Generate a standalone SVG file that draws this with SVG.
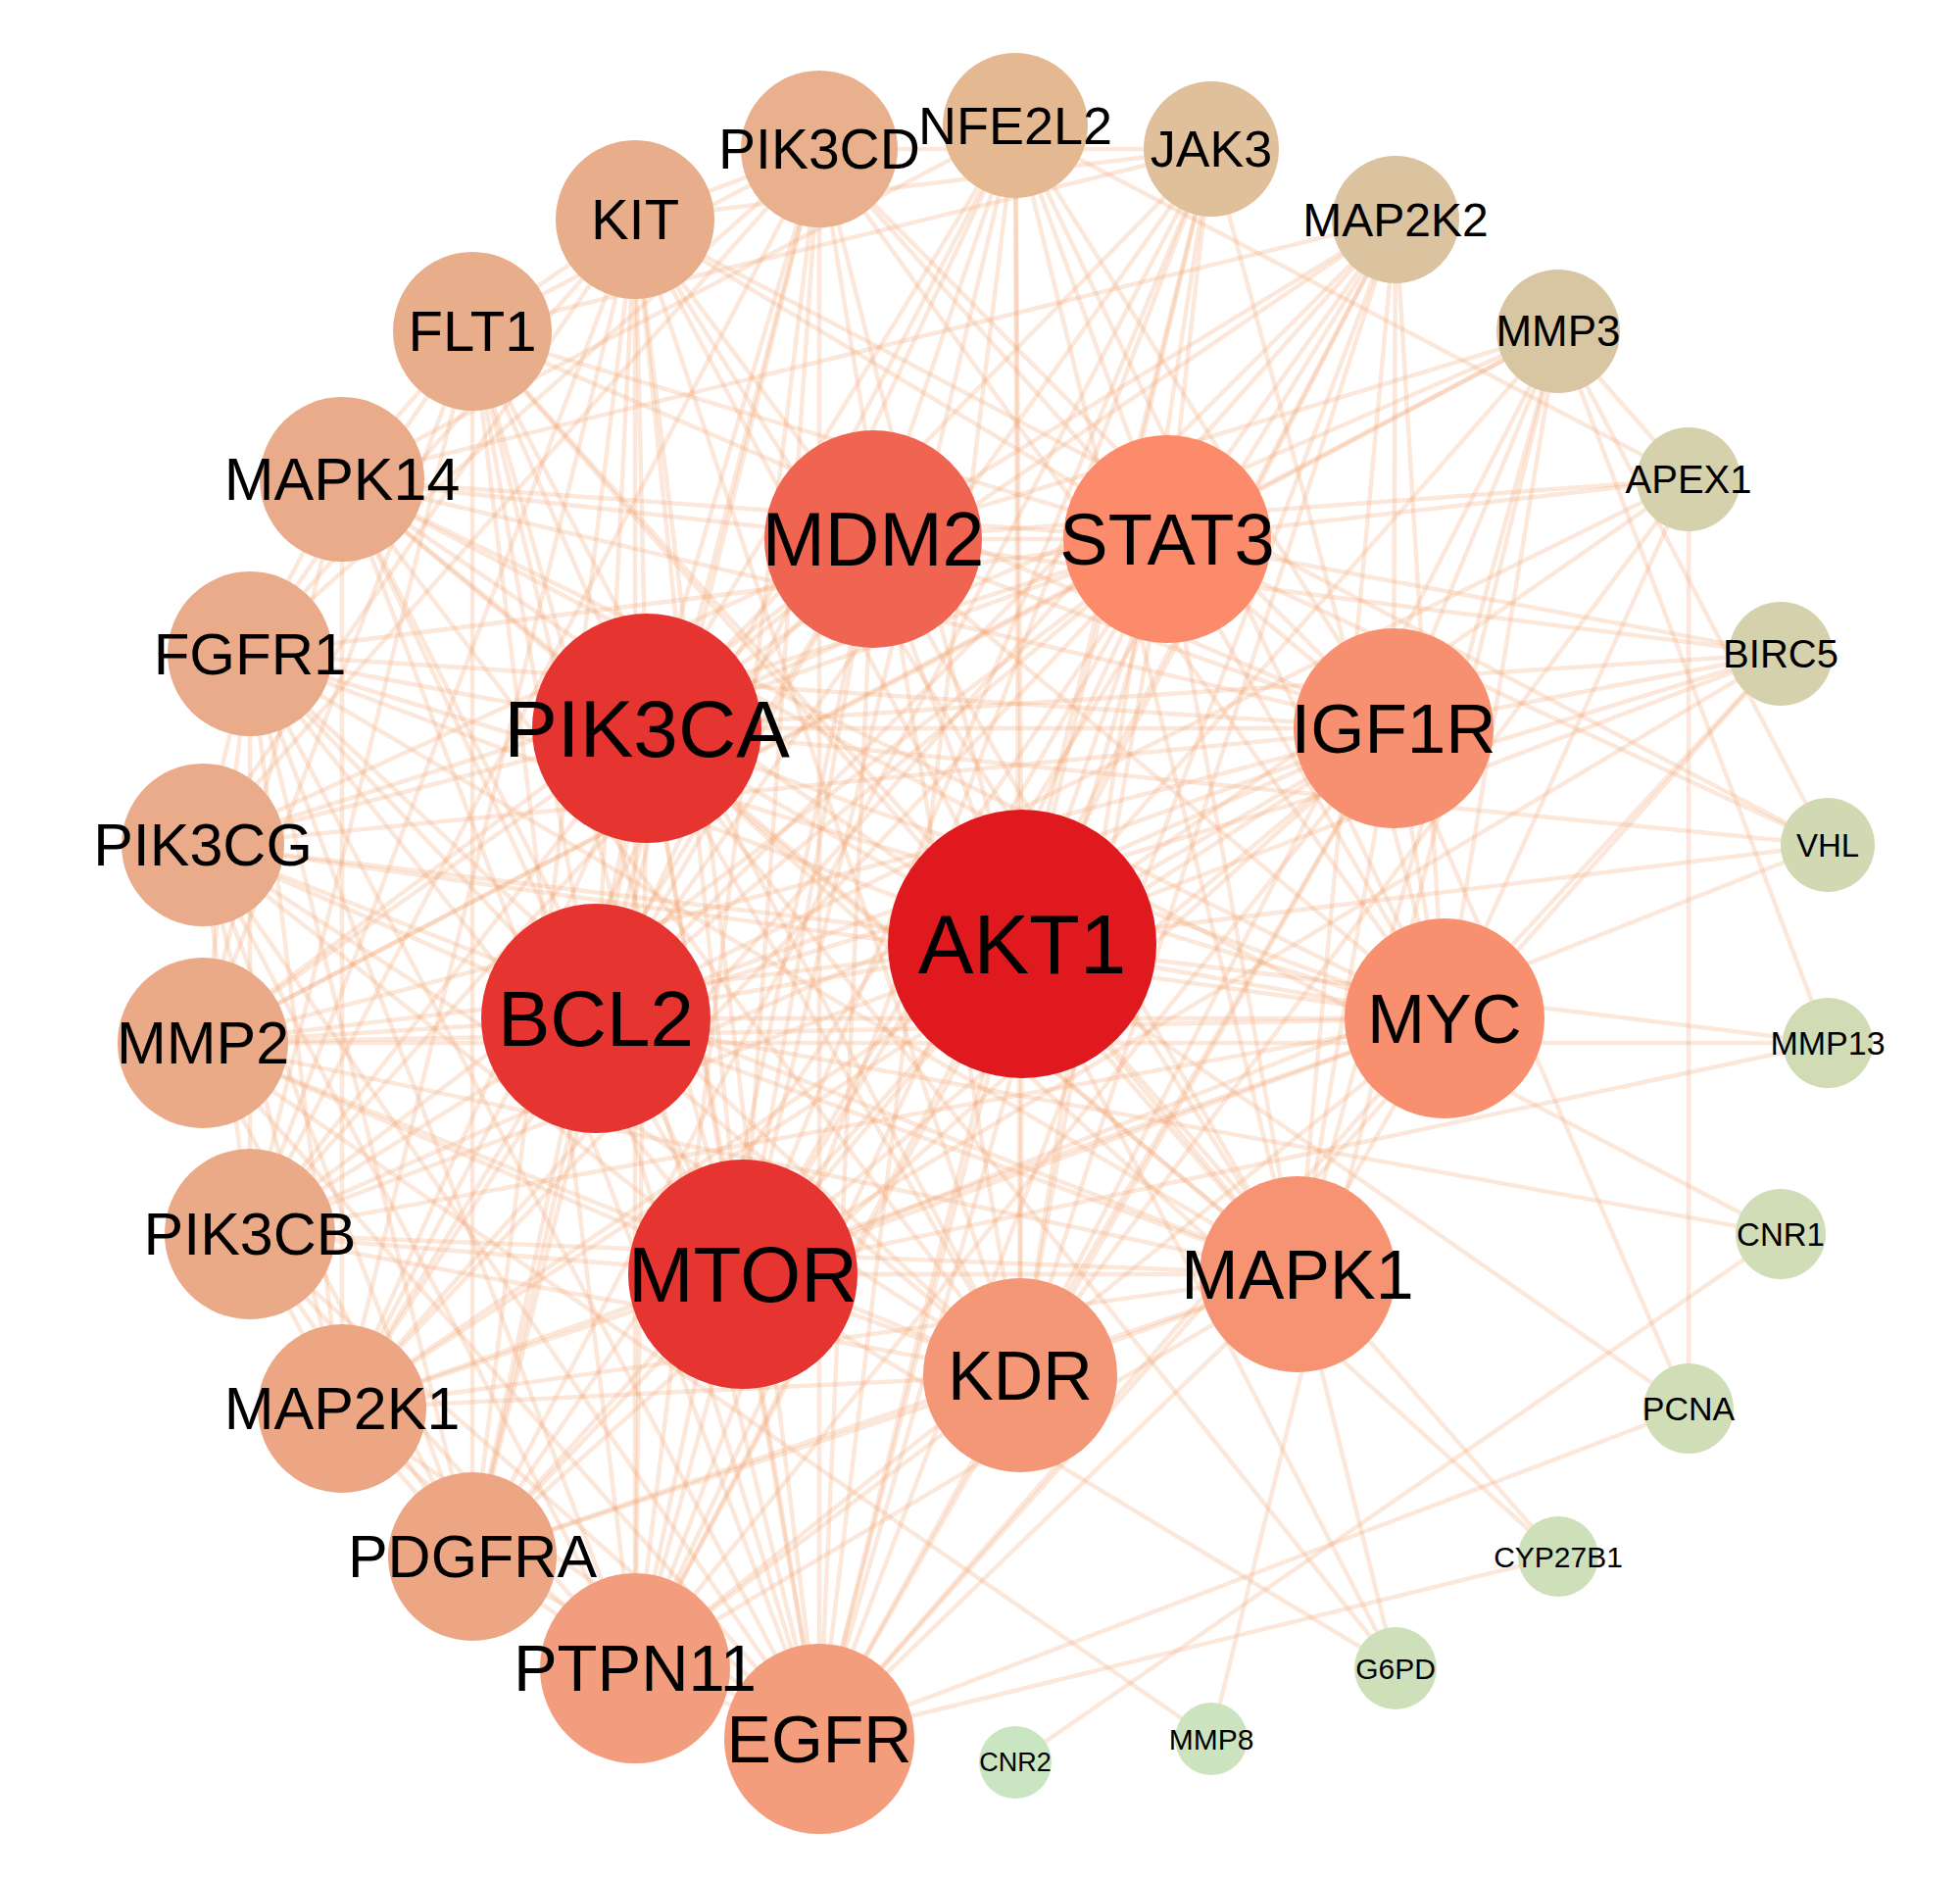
<svg xmlns="http://www.w3.org/2000/svg" width="2000" height="1917" viewBox="0 0 2000 1917">
<style>
text{font-family:"Liberation Sans",Arial,sans-serif;text-anchor:middle;fill:#000}
#edges path{stroke:#f0955a;stroke-opacity:.22;stroke-width:4.5;fill:none}
</style>
<rect width="2000" height="1917" fill="#fff"/>
<g id="edges">
<path d="M1043 963L660 743"/><path d="M1043 963L608 1039"/><path d="M1043 963L758 1300"/><path d="M1043 963L891 550"/><path d="M1043 963L1191 550"/><path d="M1043 963L1422 743"/><path d="M1043 963L1474 1039"/><path d="M1043 963L1324 1300"/><path d="M1043 963L1041 1403"/><path d="M1043 963L1036 128"/><path d="M1043 963L1236 152"/><path d="M1043 963L1424 224"/><path d="M1043 963L1590 338"/><path d="M1043 963L1723 489"/><path d="M1043 963L1817 667"/><path d="M1043 963L1865 862"/><path d="M1043 963L1865 1064"/><path d="M1043 963L1723 1437"/><path d="M1043 963L1590 1588"/><path d="M1043 963L1424 1702"/><path d="M1043 963L836 1774"/><path d="M1043 963L648 1702"/><path d="M1043 963L482 1588"/><path d="M1043 963L349 1437"/><path d="M1043 963L255 1259"/><path d="M1043 963L207 1064"/><path d="M1043 963L207 862"/><path d="M1043 963L255 667"/><path d="M1043 963L349 489"/><path d="M1043 963L482 338"/><path d="M1043 963L648 224"/><path d="M1043 963L836 152"/>
<path d="M660 743L608 1039"/><path d="M660 743L758 1300"/><path d="M660 743L891 550"/><path d="M660 743L1191 550"/><path d="M660 743L1422 743"/><path d="M660 743L1474 1039"/><path d="M660 743L1324 1300"/><path d="M660 743L1041 1403"/><path d="M660 743L1036 128"/><path d="M660 743L1236 152"/><path d="M660 743L1424 224"/><path d="M660 743L1590 338"/><path d="M660 743L1817 667"/><path d="M660 743L1865 862"/><path d="M660 743L1590 1588"/><path d="M660 743L1424 1702"/><path d="M660 743L836 1774"/><path d="M660 743L648 1702"/><path d="M660 743L482 1588"/><path d="M660 743L349 1437"/><path d="M660 743L255 1259"/><path d="M660 743L207 862"/><path d="M660 743L255 667"/><path d="M660 743L349 489"/><path d="M660 743L482 338"/><path d="M660 743L648 224"/><path d="M660 743L836 152"/><path d="M660 743L207 1064"/>
<path d="M608 1039L758 1300"/><path d="M608 1039L891 550"/><path d="M608 1039L1191 550"/><path d="M608 1039L1422 743"/><path d="M608 1039L1474 1039"/><path d="M608 1039L1324 1300"/><path d="M608 1039L1041 1403"/><path d="M608 1039L1036 128"/><path d="M608 1039L1236 152"/><path d="M608 1039L1424 224"/><path d="M608 1039L1723 489"/><path d="M608 1039L1817 667"/><path d="M608 1039L1817 1259"/><path d="M608 1039L836 1774"/><path d="M608 1039L482 1588"/><path d="M608 1039L349 1437"/><path d="M608 1039L255 1259"/><path d="M608 1039L207 1064"/><path d="M608 1039L207 862"/><path d="M608 1039L255 667"/><path d="M608 1039L349 489"/><path d="M608 1039L482 338"/><path d="M608 1039L648 224"/><path d="M608 1039L836 152"/>
<path d="M758 1300L891 550"/><path d="M758 1300L1191 550"/><path d="M758 1300L1422 743"/><path d="M758 1300L1474 1039"/><path d="M758 1300L1324 1300"/><path d="M758 1300L1041 1403"/><path d="M758 1300L1036 128"/><path d="M758 1300L1236 152"/><path d="M758 1300L1424 224"/><path d="M758 1300L1817 667"/><path d="M758 1300L1865 862"/><path d="M758 1300L1865 1064"/><path d="M758 1300L1424 1702"/><path d="M758 1300L836 1774"/><path d="M758 1300L648 1702"/><path d="M758 1300L482 1588"/><path d="M758 1300L349 1437"/><path d="M758 1300L255 1259"/><path d="M758 1300L207 1064"/><path d="M758 1300L207 862"/><path d="M758 1300L255 667"/><path d="M758 1300L349 489"/><path d="M758 1300L482 338"/><path d="M758 1300L648 224"/><path d="M758 1300L836 152"/>
<path d="M891 550L1191 550"/><path d="M891 550L1422 743"/><path d="M891 550L1474 1039"/><path d="M891 550L1324 1300"/><path d="M891 550L1036 128"/><path d="M891 550L1424 224"/><path d="M891 550L1590 338"/><path d="M891 550L1723 489"/><path d="M891 550L1817 667"/><path d="M891 550L836 1774"/><path d="M891 550L648 1702"/><path d="M891 550L349 1437"/><path d="M891 550L255 1259"/><path d="M891 550L207 1064"/><path d="M891 550L207 862"/><path d="M891 550L349 489"/><path d="M891 550L648 224"/>
<path d="M1191 550L1422 743"/><path d="M1191 550L1474 1039"/><path d="M1191 550L1324 1300"/><path d="M1191 550L1041 1403"/><path d="M1191 550L1036 128"/><path d="M1191 550L1236 152"/><path d="M1191 550L1424 224"/><path d="M1191 550L1590 338"/><path d="M1191 550L1723 489"/><path d="M1191 550L1817 667"/><path d="M1191 550L1865 862"/><path d="M1191 550L836 1774"/><path d="M1191 550L648 1702"/><path d="M1191 550L482 1588"/><path d="M1191 550L349 1437"/><path d="M1191 550L255 1259"/><path d="M1191 550L207 1064"/><path d="M1191 550L207 862"/><path d="M1191 550L255 667"/><path d="M1191 550L349 489"/><path d="M1191 550L482 338"/><path d="M1191 550L648 224"/><path d="M1191 550L836 152"/>
<path d="M1422 743L1474 1039"/><path d="M1422 743L1324 1300"/><path d="M1422 743L1041 1403"/><path d="M1422 743L1036 128"/><path d="M1422 743L1424 224"/><path d="M1422 743L1590 338"/><path d="M1422 743L1817 667"/><path d="M1422 743L1723 1437"/><path d="M1422 743L836 1774"/><path d="M1422 743L648 1702"/><path d="M1422 743L482 1588"/><path d="M1422 743L349 1437"/><path d="M1422 743L255 1259"/><path d="M1422 743L207 1064"/><path d="M1422 743L207 862"/><path d="M1422 743L255 667"/><path d="M1422 743L349 489"/><path d="M1422 743L482 338"/><path d="M1422 743L836 152"/>
<path d="M1474 1039L1324 1300"/><path d="M1474 1039L1036 128"/><path d="M1474 1039L1236 152"/><path d="M1474 1039L1424 224"/><path d="M1474 1039L1590 338"/><path d="M1474 1039L1723 489"/><path d="M1474 1039L1817 667"/><path d="M1474 1039L836 1774"/><path d="M1474 1039L648 1702"/><path d="M1474 1039L349 1437"/><path d="M1474 1039L255 1259"/><path d="M1474 1039L207 1064"/><path d="M1474 1039L207 862"/><path d="M1474 1039L255 667"/><path d="M1474 1039L349 489"/><path d="M1474 1039L836 152"/>
<path d="M1324 1300L1041 1403"/><path d="M1324 1300L1036 128"/><path d="M1324 1300L1424 224"/><path d="M1324 1300L1590 338"/><path d="M1324 1300L1424 1702"/><path d="M1324 1300L836 1774"/><path d="M1324 1300L648 1702"/><path d="M1324 1300L482 1588"/><path d="M1324 1300L349 1437"/><path d="M1324 1300L255 1259"/><path d="M1324 1300L207 1064"/><path d="M1324 1300L207 862"/><path d="M1324 1300L255 667"/><path d="M1324 1300L349 489"/><path d="M1324 1300L482 338"/><path d="M1324 1300L648 224"/>
<path d="M1041 1403L1036 128"/><path d="M1041 1403L1236 152"/><path d="M1041 1403L1424 224"/><path d="M1041 1403L1590 338"/><path d="M1041 1403L1723 489"/><path d="M1041 1403L836 1774"/><path d="M1041 1403L648 1702"/><path d="M1041 1403L482 1588"/><path d="M1041 1403L349 1437"/><path d="M1041 1403L255 1259"/><path d="M1041 1403L207 1064"/><path d="M1041 1403L207 862"/><path d="M1041 1403L255 667"/><path d="M1041 1403L349 489"/><path d="M1041 1403L482 338"/><path d="M1041 1403L648 224"/><path d="M1041 1403L836 152"/>
<path d="M1036 128L1723 489"/><path d="M1036 128L836 1774"/><path d="M1036 128L349 1437"/><path d="M1036 128L349 489"/>
<path d="M1236 152L836 1774"/><path d="M1236 152L648 1702"/><path d="M1236 152L482 1588"/><path d="M1236 152L648 224"/><path d="M1236 152L482 338"/><path d="M1236 152L836 152"/>
<path d="M1424 224L836 1774"/><path d="M1424 224L648 1702"/><path d="M1424 224L349 1437"/><path d="M1424 224L349 489"/>
<path d="M1590 338L1723 489"/><path d="M1590 338L1865 862"/><path d="M1590 338L1865 1064"/><path d="M1590 338L1236 1774"/><path d="M1590 338L207 1064"/>
<path d="M1723 489L1723 1437"/><path d="M1817 667L836 1774"/><path d="M1865 862L648 224"/><path d="M1865 1064L207 1064"/>
<path d="M1817 1259L1036 1798"/><path d="M1817 1259L349 489"/><path d="M1723 1437L836 1774"/><path d="M1590 1588L836 1774"/><path d="M1236 1774L207 1064"/>
<path d="M836 1774L648 1702"/><path d="M836 1774L482 1588"/><path d="M836 1774L349 1437"/><path d="M836 1774L255 1259"/><path d="M836 1774L207 862"/><path d="M836 1774L255 667"/><path d="M836 1774L648 224"/><path d="M836 1774L482 338"/><path d="M836 1774L836 152"/><path d="M836 1774L207 1064"/><path d="M836 1774L349 489"/>
<path d="M648 1702L482 1588"/><path d="M648 1702L349 1437"/><path d="M648 1702L255 1259"/><path d="M648 1702L836 152"/><path d="M648 1702L207 862"/><path d="M648 1702L255 667"/><path d="M648 1702L648 224"/><path d="M648 1702L482 338"/>
<path d="M482 1588L255 1259"/><path d="M482 1588L836 152"/><path d="M482 1588L207 862"/><path d="M482 1588L648 224"/><path d="M482 1588L482 338"/><path d="M482 1588L255 667"/><path d="M482 1588L349 1437"/><path d="M482 1588L207 1064"/>
<path d="M349 1437L349 489"/><path d="M349 1437L255 667"/><path d="M349 1437L207 862"/><path d="M349 1437L255 1259"/><path d="M349 1437L648 224"/>
<path d="M255 1259L836 152"/><path d="M255 1259L207 862"/><path d="M255 1259L648 224"/><path d="M255 1259L255 667"/><path d="M255 1259L482 338"/>
<path d="M207 1064L482 338"/><path d="M207 1064L255 667"/><path d="M207 1064L349 489"/>
<path d="M207 862L836 152"/><path d="M207 862L648 224"/><path d="M207 862L255 667"/>
<path d="M255 667L836 152"/><path d="M255 667L482 338"/><path d="M255 667L648 224"/><path d="M255 667L349 489"/>
<path d="M349 489L482 338"/><path d="M482 338L648 224"/><path d="M482 338L836 152"/><path d="M648 224L836 152"/>
</g>
<g id="nodes">
<g id="n-AKT1"><circle cx="1043" cy="963" r="137" fill="#e0191e"/><text x="1043" y="963" dy="0.35em" font-size="85">AKT1</text></g>
<g id="n-PIK3CA"><circle cx="660" cy="743" r="117" fill="#e63430"/><text x="660" y="743" dy="0.35em" font-size="82">PIK3CA</text></g>
<g id="n-BCL2"><circle cx="608" cy="1039" r="117" fill="#e63430"/><text x="608" y="1039" dy="0.35em" font-size="80">BCL2</text></g>
<g id="n-MTOR"><circle cx="758" cy="1300" r="117" fill="#e63430"/><text x="758" y="1300" dy="0.35em" font-size="80">MTOR</text></g>
<g id="n-MDM2"><circle cx="891" cy="550" r="111" fill="#f06452"/><text x="891" y="550" dy="0.35em" font-size="77">MDM2</text></g>
<g id="n-STAT3"><circle cx="1191" cy="550" r="106" fill="#fb8b6b"/><text x="1191" y="550" dy="0.35em" font-size="74">STAT3</text></g>
<g id="n-IGF1R"><circle cx="1422" cy="743" r="102" fill="#f79070"/><text x="1422" y="743" dy="0.35em" font-size="71">IGF1R</text></g>
<g id="n-MYC"><circle cx="1474" cy="1039" r="102" fill="#f88f6f"/><text x="1474" y="1039" dy="0.35em" font-size="71">MYC</text></g>
<g id="n-MAPK1"><circle cx="1324" cy="1300" r="100" fill="#f59373"/><text x="1324" y="1300" dy="0.35em" font-size="70">MAPK1</text></g>
<g id="n-KDR"><circle cx="1041" cy="1403" r="99" fill="#f49777"/><text x="1041" y="1403" dy="0.35em" font-size="70">KDR</text></g>
<g id="n-NFE2L2"><circle cx="1036" cy="128" r="74" fill="#e4b890"/><text x="1036" y="128" dy="0.35em" font-size="54">NFE2L2</text></g>
<g id="n-JAK3"><circle cx="1236" cy="152" r="69" fill="#dfc09a"/><text x="1236" y="152" dy="0.35em" font-size="52">JAK3</text></g>
<g id="n-MAP2K2"><circle cx="1424" cy="224" r="65" fill="#dbc39f"/><text x="1424" y="224" dy="0.35em" font-size="48">MAP2K2</text></g>
<g id="n-MMP3"><circle cx="1590" cy="338" r="63" fill="#d8c6a2"/><text x="1590" y="338" dy="0.35em" font-size="44">MMP3</text></g>
<g id="n-APEX1"><circle cx="1723" cy="489" r="53" fill="#d5d1ac"/><text x="1723" y="489" dy="0.35em" font-size="40">APEX1</text></g>
<g id="n-BIRC5"><circle cx="1817" cy="667" r="53" fill="#d5d1ac"/><text x="1817" y="667" dy="0.35em" font-size="40">BIRC5</text></g>
<g id="n-VHL"><circle cx="1865" cy="862" r="48" fill="#d2d9b2"/><text x="1865" y="862" dy="0.35em" font-size="33">VHL</text></g>
<g id="n-MMP13"><circle cx="1865" cy="1064" r="46" fill="#d1dbb4"/><text x="1865" y="1064" dy="0.35em" font-size="34">MMP13</text></g>
<g id="n-CNR1"><circle cx="1817" cy="1259" r="46" fill="#d0ddb6"/><text x="1817" y="1259" dy="0.35em" font-size="33">CNR1</text></g>
<g id="n-PCNA"><circle cx="1723" cy="1437" r="46" fill="#cfdeb7"/><text x="1723" y="1437" dy="0.35em" font-size="34">PCNA</text></g>
<g id="n-CYP27B1"><circle cx="1590" cy="1588" r="41" fill="#cde0b9"/><text x="1590" y="1588" dy="0.35em" font-size="30">CYP27B1</text></g>
<g id="n-G6PD"><circle cx="1424" cy="1702" r="42" fill="#cde0b9"/><text x="1424" y="1702" dy="0.35em" font-size="30">G6PD</text></g>
<g id="n-MMP8"><circle cx="1236" cy="1774" r="37" fill="#cbe3be"/><text x="1236" y="1774" dy="0.35em" font-size="30">MMP8</text></g>
<g id="n-CNR2"><circle cx="1036" cy="1798" r="37" fill="#c9e5c1"/><text x="1036" y="1798" dy="0.35em" font-size="27">CNR2</text></g>
<g id="n-EGFR"><circle cx="836" cy="1774" r="97" fill="#f39d7c"/><text x="836" y="1774" dy="0.35em" font-size="68">EGFR</text></g>
<g id="n-PTPN11"><circle cx="648" cy="1702" r="97" fill="#f29e7e"/><text x="648" y="1702" dy="0.35em" font-size="67">PTPN11</text></g>
<g id="n-PDGFRA"><circle cx="482" cy="1588" r="86" fill="#eca684"/><text x="482" y="1588" dy="0.35em" font-size="61">PDGFRA</text></g>
<g id="n-MAP2K1"><circle cx="349" cy="1437" r="86" fill="#eca684"/><text x="349" y="1437" dy="0.35em" font-size="61">MAP2K1</text></g>
<g id="n-PIK3CB"><circle cx="255" cy="1259" r="87" fill="#eaa987"/><text x="255" y="1259" dy="0.35em" font-size="61">PIK3CB</text></g>
<g id="n-MMP2"><circle cx="207" cy="1064" r="87" fill="#eaa987"/><text x="207" y="1064" dy="0.35em" font-size="61">MMP2</text></g>
<g id="n-PIK3CG"><circle cx="207" cy="862" r="83" fill="#e9ab89"/><text x="207" y="862" dy="0.35em" font-size="61">PIK3CG</text></g>
<g id="n-FGFR1"><circle cx="255" cy="667" r="84" fill="#e9ab89"/><text x="255" y="667" dy="0.35em" font-size="60">FGFR1</text></g>
<g id="n-MAPK14"><circle cx="349" cy="489" r="84" fill="#e9ab89"/><text x="349" y="489" dy="0.35em" font-size="61">MAPK14</text></g>
<g id="n-FLT1"><circle cx="482" cy="338" r="81" fill="#e8ae8b"/><text x="482" y="338" dy="0.35em" font-size="58">FLT1</text></g>
<g id="n-KIT"><circle cx="648" cy="224" r="81" fill="#e8ae8b"/><text x="648" y="224" dy="0.35em" font-size="58">KIT</text></g>
<g id="n-PIK3CD"><circle cx="836" cy="152" r="80" fill="#e8b08d"/><text x="836" y="152" dy="0.35em" font-size="57">PIK3CD</text></g>
</g>
</svg>
